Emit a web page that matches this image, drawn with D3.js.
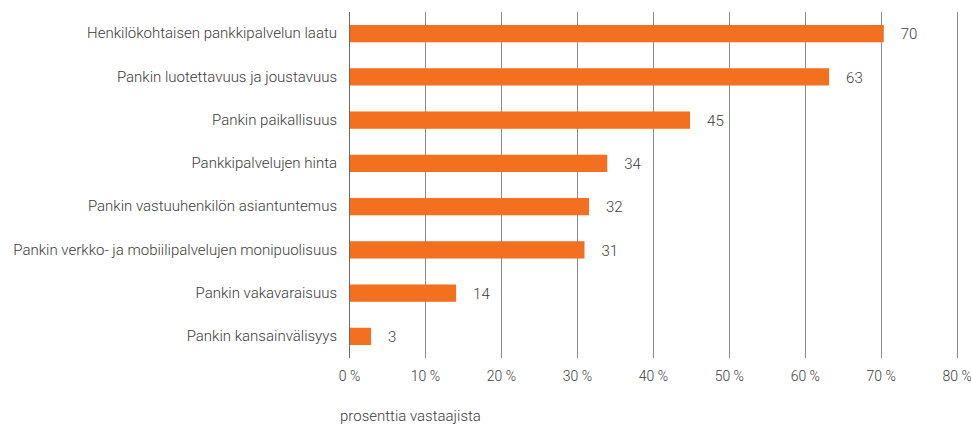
<!DOCTYPE html>
<html>
<head>
<meta charset="utf-8">
<script src="https://cdn.jsdelivr.net/npm/d3@7"></script>
<style>
  body { margin: 0; background: #fff; }
  text { font-family: Roboto, "Noto Sans", sans-serif; fill: #3a3a3a; font-weight: 300; }
</style>
</head>
<body>
<div id="chart"></div>
<script>
// data
const categories = [
  "Henkilökohtaisen pankkipalvelun laatu",
  "Pankin luotettavuus ja joustavuus",
  "Pankin paikallisuus",
  "Pankkipalvelujen hinta",
  "Pankin vastuuhenkilön asiantuntemus",
  "Pankin verkko- ja mobiilipalvelujen monipuolisuus",
  "Pankin vakavaraisuus",
  "Pankin kansainvälisyys"
];
const values = [70.4, 63.2, 44.9, 34, 31.6, 31, 14.1, 2.9];
const xTicks = [0, 10, 20, 30, 40, 50, 60, 70, 80];
const axisTitle = "prosenttia vastaajista";

const data = categories.map((c, i) => ({ name: c, value: values[i] }));

const margin = { top: 12, right: 14, bottom: 66, left: 349 };
const width = 971 - margin.left - margin.right;
const height = 424 - margin.top - margin.bottom;

const svg = d3.select("#chart")
    .append("svg")
    .attr("width", 971)
    .attr("height", 424)
    .append("g")
    .attr("transform", `translate(${margin.left},${margin.top})`);

const xScale = d3.scaleLinear()
    .domain([0, 80])
    .range([0, 607.7]);

const yScale = d3.scaleBand()
    .domain(categories)
    .range([0, height])
    .paddingInner(0.6)
    .paddingOuter(0.3);

// gridlines
svg.selectAll(".grid")
    .data(xTicks)
    .enter()
    .append("line")
    .attr("class", "grid")
    .attr("x1", d => Math.round(xScale(d)) + 0.5)
    .attr("x2", d => Math.round(xScale(d)) + 0.5)
    .attr("y1", 0)
    .attr("y2", height)
    .attr("stroke", d => d === 0 ? "#6b6b6b" : "#8a8a8a")
    .attr("stroke-width", 1);

// bars
svg.selectAll(".bar")
    .data(data)
    .enter()
    .append("rect")
    .attr("class", "bar")
    .attr("x", xScale(0) + 1)
    .attr("y", d => yScale(d.name))
    .attr("width", d => xScale(d.value) - 1)
    .attr("height", yScale.bandwidth())
    .attr("fill", "#f37021");

// value labels
svg.selectAll(".val")
    .data(data)
    .enter()
    .append("text")
    .attr("class", "val")
    .attr("x", d => xScale(d.value) + 17)
    .attr("y", d => yScale(d.name) + yScale.bandwidth() / 2)
    .attr("dy", "0.38em")
    .style("font-size", "15px")
    .text(d => Math.round(d.value));

// category labels
svg.append("g")
    .attr("class", "y-axis")
    .call(d3.axisLeft(yScale).tickSize(0).tickPadding(12))
    .call(g => g.select(".domain").remove())
    .selectAll("text")
    .style("font-size", "15px")
    .style("font-family", "Roboto, sans-serif")
    .style("fill", "#3a3a3a");

// x tick labels
svg.append("g")
    .attr("class", "x-axis")
    .attr("transform", `translate(0, ${height})`)
    .call(d3.axisBottom(xScale).tickValues(xTicks).tickSize(0).tickPadding(13)
        .tickFormat(d => d + "\u00a0%"))
    .call(g => g.select(".domain").remove())
    .selectAll("text")
    .style("font-size", "14px")
    .style("font-family", "Roboto, sans-serif")
    .style("fill", "#3a3a3a");

svg.append("text")
    .attr("class", "label")
    .attr("x", -9)
    .attr("y", height + 63)
    .style("font-size", "15px")
    .text(axisTitle);
</script>
</body>
</html>
